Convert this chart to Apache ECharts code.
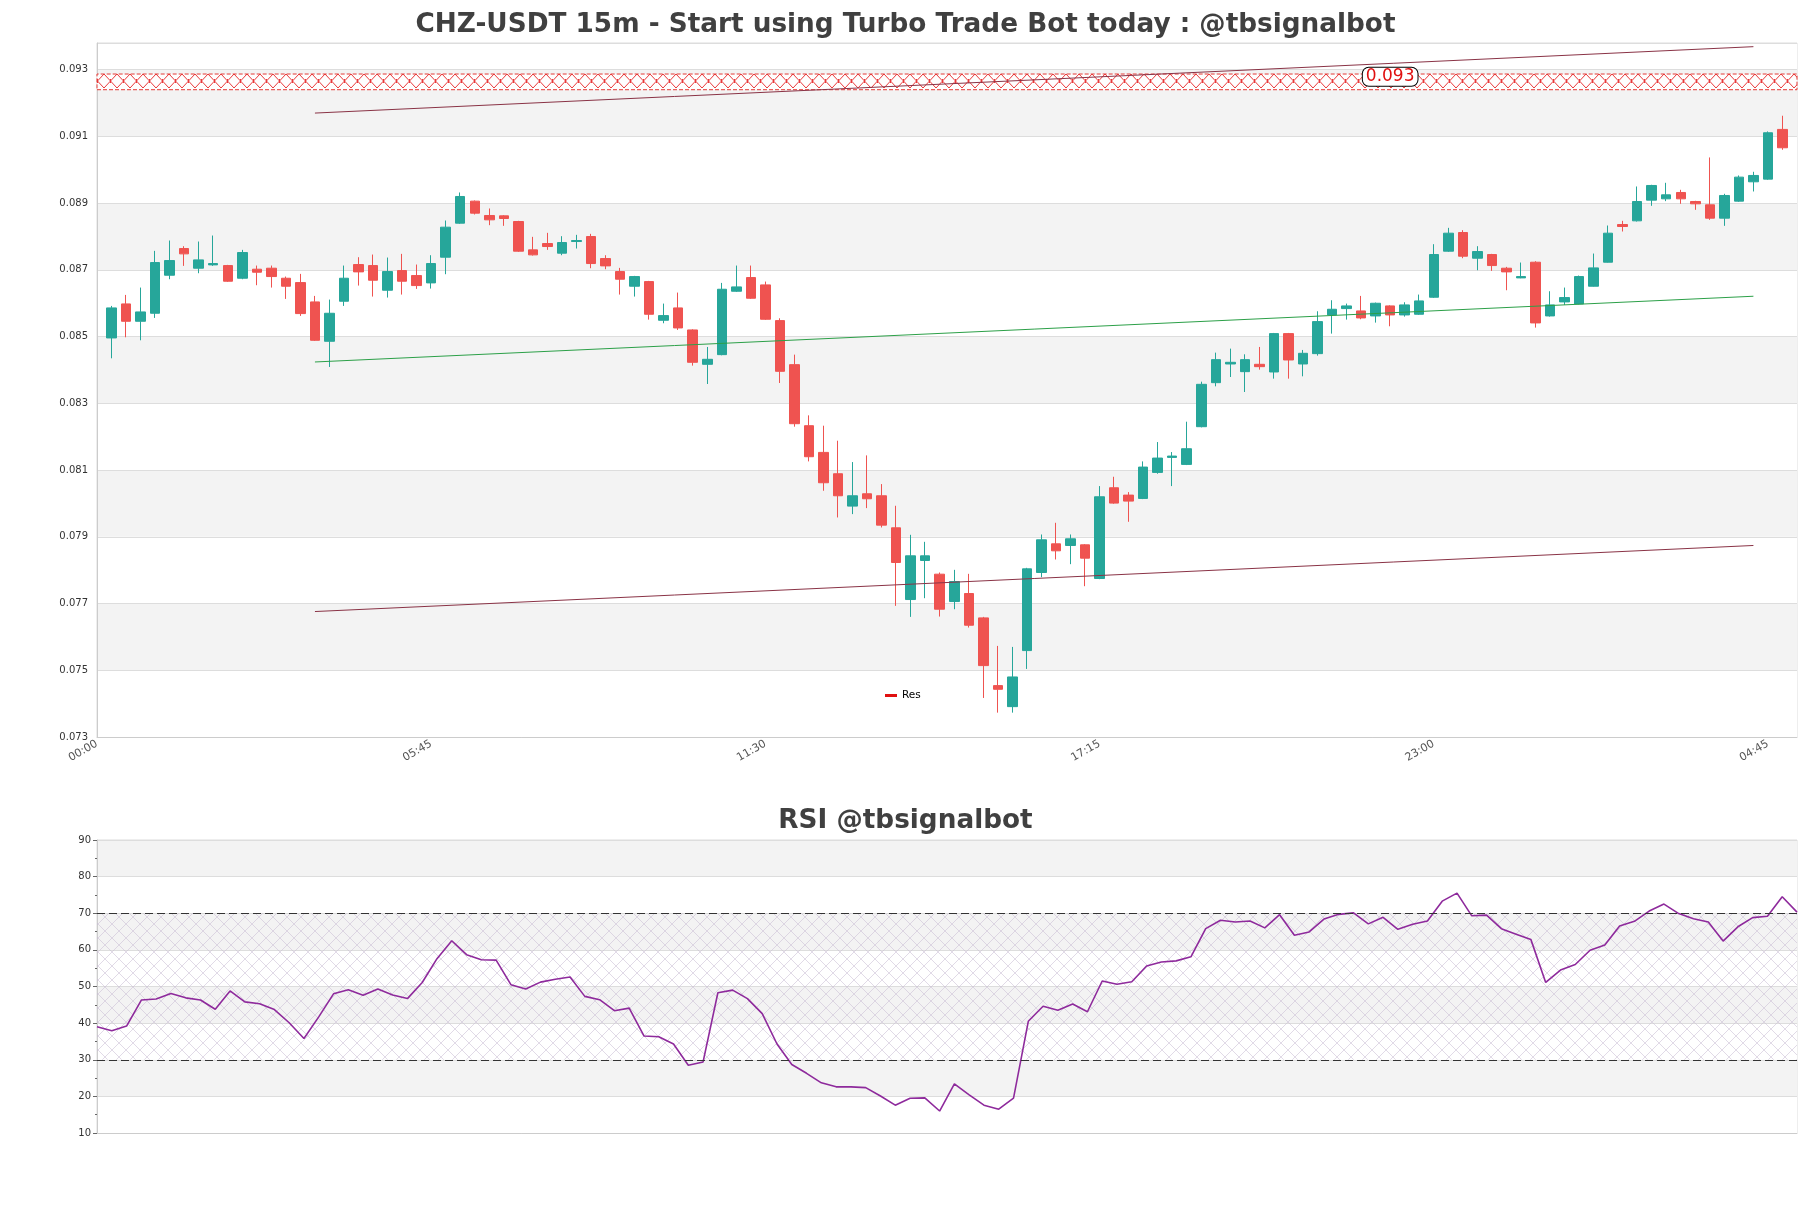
<!DOCTYPE html>
<html>
<head>
<meta charset="utf-8">
<script src="https://cdn.jsdelivr.net/npm/echarts@6/dist/echarts.min.js"></script>
<style>
  html, body { margin: 0; padding: 0; background: #fff; }
  #chart { width: 1811px; height: 1208px; }
</style>
</head>
<body>
<div id="chart"></div>
<script>
// 15m candles [open, close, low, high], first one is 00:15
const candles = [
  [0.08496, 0.08586, 0.08435, 0.08592], [0.08598, 0.08546, 0.08498, 0.08625],
  [0.08546, 0.08574, 0.08489, 0.08647], [0.08570, 0.08722, 0.08556, 0.08757],
  [0.08684, 0.08728, 0.08672, 0.08788], [0.08764, 0.08748, 0.08712, 0.08771],
  [0.08705, 0.08730, 0.08690, 0.08785], [0.08715, 0.08719, 0.08712, 0.08803],
  [0.08713, 0.08666, 0.08664, 0.08715], [0.08675, 0.08752, 0.08672, 0.08760],
  [0.08702, 0.08693, 0.08654, 0.08713], [0.08705, 0.08680, 0.08647, 0.08713],
  [0.08675, 0.08651, 0.08613, 0.08680], [0.08662, 0.08569, 0.08562, 0.08688],
  [0.08604, 0.08489, 0.08487, 0.08622], [0.08486, 0.08570, 0.08409, 0.08611],
  [0.08606, 0.08675, 0.08592, 0.08713], [0.08716, 0.08694, 0.08653, 0.08738],
  [0.08713, 0.08669, 0.08620, 0.08746], [0.08639, 0.08695, 0.08617, 0.08737],
  [0.08698, 0.08666, 0.08626, 0.08748], [0.08683, 0.08653, 0.08643, 0.08716],
  [0.08661, 0.08719, 0.08644, 0.08744], [0.08738, 0.08828, 0.08687, 0.08848],
  [0.08840, 0.08920, 0.08838, 0.08932], [0.08906, 0.08870, 0.08866, 0.08908],
  [0.08863, 0.08850, 0.08834, 0.08884], [0.08862, 0.08854, 0.08832, 0.08864],
  [0.08845, 0.08756, 0.08754, 0.08847], [0.08760, 0.08745, 0.08743, 0.08799],
  [0.08779, 0.08770, 0.08760, 0.08811], [0.08750, 0.08782, 0.08744, 0.08801],
  [0.08785, 0.08788, 0.08764, 0.08805], [0.08800, 0.08719, 0.08705, 0.08808],
  [0.08734, 0.08712, 0.08702, 0.08744], [0.08695, 0.08672, 0.08626, 0.08706],
  [0.08651, 0.08680, 0.08620, 0.08682], [0.08665, 0.08567, 0.08551, 0.08667],
  [0.08549, 0.08563, 0.08540, 0.08599], [0.08586, 0.08526, 0.08520, 0.08632],
  [0.08520, 0.08423, 0.08413, 0.08522], [0.08417, 0.08432, 0.08358, 0.08469],
  [0.08446, 0.08642, 0.08444, 0.08661], [0.08636, 0.08649, 0.08634, 0.08713],
  [0.08677, 0.08615, 0.08613, 0.08713], [0.08655, 0.08552, 0.08550, 0.08665],
  [0.08548, 0.08396, 0.08361, 0.08555], [0.08416, 0.08239, 0.08230, 0.08446],
  [0.08233, 0.08140, 0.08126, 0.08264], [0.08153, 0.08062, 0.08038, 0.08233],
  [0.08089, 0.08023, 0.07958, 0.08188], [0.07992, 0.08023, 0.07968, 0.08124],
  [0.08029, 0.08014, 0.07986, 0.08144], [0.08023, 0.07935, 0.07928, 0.08058],
  [0.07927, 0.07823, 0.07693, 0.07993], [0.07712, 0.07843, 0.07660, 0.07906],
  [0.07829, 0.07843, 0.07716, 0.07885], [0.07788, 0.07683, 0.07661, 0.07793],
  [0.07706, 0.07766, 0.07683, 0.07801], [0.07730, 0.07635, 0.07628, 0.07789],
  [0.07657, 0.07514, 0.07417, 0.07660], [0.07454, 0.07443, 0.07373, 0.07573],
  [0.07391, 0.07480, 0.07373, 0.07570], [0.07559, 0.07804, 0.07504, 0.07807],
  [0.07793, 0.07891, 0.07779, 0.07907], [0.07879, 0.07858, 0.07832, 0.07942],
  [0.07874, 0.07894, 0.07818, 0.07907], [0.07876, 0.07836, 0.07752, 0.07878],
  [0.07775, 0.08020, 0.07773, 0.08052], [0.08047, 0.08001, 0.07999, 0.08080],
  [0.08025, 0.08007, 0.07945, 0.08034], [0.08015, 0.08109, 0.08013, 0.08126],
  [0.08093, 0.08136, 0.08089, 0.08184], [0.08138, 0.08142, 0.08052, 0.08154],
  [0.08117, 0.08164, 0.08115, 0.08245], [0.08230, 0.08357, 0.08228, 0.08365],
  [0.08362, 0.08431, 0.08351, 0.08452], [0.08418, 0.08423, 0.08379, 0.08464],
  [0.08395, 0.08431, 0.08334, 0.08447], [0.08417, 0.08410, 0.08401, 0.08469],
  [0.08394, 0.08509, 0.08374, 0.08511], [0.08509, 0.08430, 0.08374, 0.08511],
  [0.08418, 0.08450, 0.08381, 0.08460], [0.08449, 0.08545, 0.08443, 0.08576],
  [0.08565, 0.08582, 0.08509, 0.08609], [0.08584, 0.08592, 0.08551, 0.08599],
  [0.08577, 0.08556, 0.08552, 0.08622], [0.08562, 0.08600, 0.08542, 0.08602],
  [0.08592, 0.08565, 0.08531, 0.08594], [0.08565, 0.08595, 0.08560, 0.08603],
  [0.08567, 0.08607, 0.08565, 0.08626], [0.08618, 0.08746, 0.08616, 0.08777],
  [0.08756, 0.08810, 0.08754, 0.08826], [0.08812, 0.08741, 0.08735, 0.08819],
  [0.08735, 0.08755, 0.08699, 0.08771], [0.08746, 0.08713, 0.08697, 0.08748],
  [0.08705, 0.08694, 0.08639, 0.08709], [0.08676, 0.08680, 0.08675, 0.08722],
  [0.08723, 0.08541, 0.08527, 0.08726], [0.08562, 0.08595, 0.08560, 0.08636],
  [0.08604, 0.08617, 0.08595, 0.08647], [0.08598, 0.08680, 0.08597, 0.08683],
  [0.08651, 0.08706, 0.08650, 0.08749], [0.08723, 0.08810, 0.08722, 0.08833],
  [0.08836, 0.08830, 0.08815, 0.08847], [0.08847, 0.08905, 0.08845, 0.08950],
  [0.08909, 0.08953, 0.08892, 0.08955], [0.08913, 0.08925, 0.08906, 0.08961],
  [0.08932, 0.08913, 0.08898, 0.08940], [0.08905, 0.08898, 0.08880, 0.08907],
  [0.08895, 0.08855, 0.08850, 0.09037], [0.08855, 0.08923, 0.08832, 0.08928],
  [0.08906, 0.08978, 0.08904, 0.08983], [0.08964, 0.08983, 0.08935, 0.08994],
  [0.08972, 0.09111, 0.08970, 0.09115], [0.09121, 0.09066, 0.09060, 0.09162]
];

const rsi = [
  39.0, 37.9, 39.2, 46.3, 46.6, 48.1, 46.9, 46.3, 43.8, 48.8,
  45.8, 45.3, 43.7, 40.1, 35.8, 41.7, 48.0, 49.1, 47.6, 49.3,
  47.7, 46.7, 51.1, 57.6, 62.5, 58.7, 57.3, 57.2, 50.5, 49.3,
  51.2, 52.0, 52.6, 47.3, 46.4, 43.4, 44.1, 36.5, 36.3, 34.3,
  28.5, 29.4, 48.3, 49.0, 46.7, 42.6, 34.3, 28.7, 26.3, 23.7,
  22.6, 22.6, 22.4, 20.1, 17.6, 19.5, 19.6, 16.0, 23.4, 20.4,
  17.6, 16.5, 19.5, 40.5, 44.6, 43.5, 45.2, 43.1, 51.5, 50.6,
  51.3, 55.6, 56.7, 57.0, 58.1, 65.8, 68.1, 67.6, 67.9, 66.0,
  69.6, 64.0, 64.9, 68.4, 69.7, 70.1, 67.1, 68.9, 65.6, 67.0,
  67.9, 73.3, 75.5, 69.3, 69.5, 65.8, 64.3, 62.8, 51.1, 54.5,
  56.0, 59.9, 61.3, 66.5, 67.8, 70.6, 72.5, 69.9, 68.5, 67.6,
  62.4, 66.3, 68.8, 69.2, 74.5, 70.3
];

// trend lines: [category index, price]
const upperLine = [[15, 0.09170], [114, 0.09369]];
const midLine = [[15, 0.08424], [114, 0.08621]];
const lowerLine = [[15, 0.07676], [114, 0.07874]];

const resZone = [0.0924, 0.09287];
const resText = '0.093';
const resLabelAt = [89, 0.09279];

const rsiLevels = [30, 70];

// category axis: one slot before the first candle and one after the last
const times = [];
for (let k = 0; k < candles.length + 2; k++) {
  const m = k * 15;
  const h = Math.floor(m / 60) % 24;
  times.push(String(h).padStart(2, '0') + ':' + String(m % 60).padStart(2, '0'));
}
const rsiTimes = times.slice(1, candles.length + 1);

// big X hatch for the resistance band
function resHatch() {
  const w = 13, h = 16;
  const c = document.createElement('canvas');
  c.width = w;
  c.height = h;
  const g = c.getContext('2d');
  g.fillStyle = 'rgba(255,255,255,0.9)';
  g.fillRect(0, 0, w, h);
  g.strokeStyle = '#e8383a';
  g.lineWidth = 1;
  g.beginPath();
  g.moveTo(0, 1); g.lineTo(w, h - 1);
  g.moveTo(w, 1); g.lineTo(0, h - 1);
  g.moveTo(w / 2, h / 2 - 2); g.lineTo(w / 2, h / 2 + 2);
  g.stroke();
  return c;
}

function crossHatch(color, size) {
  const c = document.createElement('canvas');
  c.width = size;
  c.height = size;
  const g = c.getContext('2d');
  g.strokeStyle = color;
  g.lineWidth = 1;
  g.beginPath();
  g.moveTo(0, 0); g.lineTo(size, size);
  g.moveTo(size, 0); g.lineTo(0, size);
  g.stroke();
  return c;
}

const font = 'DejaVu Sans';
const chart = echarts.init(document.getElementById('chart'));

const option = {
  animation: false,
  backgroundColor: '#fff',
  textStyle: { fontFamily: font },
  title: [
    {
      text: 'CHZ-USDT 15m - Start using Turbo Trade Bot today : @tbsignalbot',
      left: 'center', top: 7,
      textStyle: { fontSize: 26.3, fontWeight: 'bold', color: '#404040', fontFamily: font }
    },
    {
      text: 'RSI @tbsignalbot',
      left: 'center', top: 803,
      textStyle: { fontSize: 26.3, fontWeight: 'bold', color: '#404040', fontFamily: font }
    }
  ],
  legend: {
    data: ['Res'],
    left: 880, top: 685,
    icon: 'rect', itemWidth: 12, itemHeight: 3, itemGap: 6,
    textStyle: { fontSize: 10.5, color: '#000', fontFamily: font }
  },
  grid: [
    { left: 97, right: 14, top: 43, height: 694, show: true, borderColor: '#ddd' },
    { left: 97, right: 14, top: 840, height: 293, show: true, borderColor: '#ddd' }
  ],
  xAxis: [
    {
      type: 'category', gridIndex: 0, data: times, boundaryGap: false,
      axisLine: { lineStyle: { color: '#ccc' } },
      axisTick: { show: false },
      axisLabel: { interval: 22, rotate: 30, fontSize: 11, color: '#555', margin: 6 },
      splitLine: { show: false }
    },
    {
      type: 'category', gridIndex: 1, data: rsiTimes, boundaryGap: false,
      axisLine: { lineStyle: { color: '#ccc' } },
      axisTick: { show: false },
      axisLabel: { show: false },
      splitLine: { show: false }
    }
  ],
  yAxis: [
    {
      type: 'value', gridIndex: 0, min: 0.073, max: 0.0938, interval: 0.002,
      axisLine: { show: true, lineStyle: { color: '#ccc' } },
      axisTick: { show: false },
      axisLabel: {
        fontSize: 10, color: '#333', margin: 9, showMaxLabel: false,
        formatter: v => v.toFixed(3)
      },
      splitLine: { show: true, lineStyle: { color: '#ddd' } },
      splitArea: { show: true, areaStyle: { color: ['#ffffff', '#f3f3f3'] } }
    },
    {
      type: 'value', gridIndex: 1, min: 10, max: 90, interval: 10,
      axisLine: { show: true, lineStyle: { color: '#ccc' } },
      axisTick: { show: true, length: 4, lineStyle: { color: '#666' } },
      minorTick: { show: true, splitNumber: 2, length: 2, lineStyle: { color: '#666' } },
      axisLabel: { fontSize: 10, color: '#333', margin: 6 },
      splitLine: { show: true, lineStyle: { color: '#ddd' } },
      splitArea: { show: true, areaStyle: { color: ['#ffffff', '#f3f3f3'] } }
    }
  ],
  series: [
    {
      name: 'Res', type: 'line', xAxisIndex: 0, yAxisIndex: 0, data: [],
      color: '#e01010',
      markArea: {
        silent: true,
        itemStyle: {
          color: { image: resHatch(), repeat: 'repeat', y: 73 },
          borderColor: '#e53935', borderWidth: 1, borderType: [4, 2]
        },
        data: [[{ yAxis: resZone[0] }, { yAxis: resZone[1] }]]
      },
      markPoint: {
        symbol: 'rect', symbolSize: 0, silent: true,
        label: {
          show: true, formatter: resText, color: '#e01010', fontSize: 17,
          backgroundColor: '#fff', borderColor: '#000', borderWidth: 1,
          borderRadius: 6, padding: [1, 3, 0, 3], fontFamily: font
        },
        data: [{ coord: resLabelAt }]
      }
    },
    {
      name: 'price', type: 'candlestick', xAxisIndex: 0, yAxisIndex: 0,
      data: candles.map((c, i) => [i + 1].concat(c)),
      encode: { x: 0, y: [1, 2, 3, 4] },
      barWidth: 10,
      itemStyle: {
        color: '#26a69a', color0: '#ef5350',
        borderColor: '#26a69a', borderColor0: '#ef5350', borderWidth: 1
      }
    },
    {
      name: 'upper', type: 'line', xAxisIndex: 0, yAxisIndex: 0, data: upperLine,
      symbol: 'none', lineStyle: { color: '#8a3346', width: 1 }
    },
    {
      name: 'support', type: 'line', xAxisIndex: 0, yAxisIndex: 0, data: midLine,
      symbol: 'none', lineStyle: { color: '#2ca048', width: 1 }
    },
    {
      name: 'lower', type: 'line', xAxisIndex: 0, yAxisIndex: 0, data: lowerLine,
      symbol: 'none', lineStyle: { color: '#8a3346', width: 1 }
    },
    {
      name: 'RSI', type: 'line', xAxisIndex: 1, yAxisIndex: 1, data: rsi,
      symbol: 'none', lineStyle: { color: '#8e2a9c', width: 1.6 },
      markArea: {
        silent: true,
        itemStyle: {
          color: { image: crossHatch('rgba(200,188,212,0.55)', 14), repeat: 'repeat' }
        },
        data: [[{ yAxis: rsiLevels[0] }, { yAxis: rsiLevels[1] }]]
      },
      markLine: {
        silent: true, symbol: 'none', label: { show: false },
        lineStyle: { color: '#333', type: [8, 4], width: 1.2 },
        data: rsiLevels.map(v => ({ yAxis: v }))
      }
    }
  ]
};

chart.setOption(option);
</script>
</body>
</html>
